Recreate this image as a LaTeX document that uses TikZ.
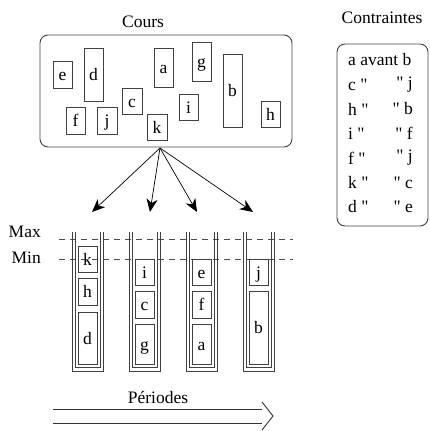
\documentclass[tikz,border=0pt]{standalone}
\usepackage{fontspec}
\setmainfont{Liberation Serif}[Ligatures=TeXOff]
\usetikzlibrary{arrows.meta}
\begin{document}
\begin{tikzpicture}[x=1pt,y=-1pt,
  txt/.style={font=\fontsize{17.5}{20}\selectfont, inner sep=0pt},
  ln/.style={draw=black!75, line width=0.9pt},
  lbox/.style={txt, ln, rectangle, minimum width=19pt, text height=12.5pt, text depth=0pt},
  grp/.style={ln, rounded corners=8pt},
  lim/.style={draw=black!70, line width=0.8pt, dash pattern=on 6pt off 5pt},
  per/.style={draw=black!75, line width=0.9pt},
  pick/.style={draw=black, line width=0.7pt, -{Stealth[length=13pt,width=11pt,inset=4pt]}},
  flow/.style={draw=black!80, line width=0.9pt}
]
\useasboundingbox (0,0) rectangle (429,431);

% --- Cours
\node[txt] (courslbl) at (143,22) {Cours};
\draw[grp] (40,35) rectangle (292,147);
\node[lbox, minimum height=27pt] (te) at (62.5,74.5) {e};
\node[lbox, minimum height=53pt] (td) at (93.5,74.5) {d};
\node[lbox, minimum height=39pt] (ta) at (163.5,67.5) {a};
\node[lbox, minimum height=39pt] (tg) at (201.5,61.5) {g};
\node[lbox, minimum height=73pt] (tb) at (232.5,90.5) {b};
\node[lbox, minimum height=26pt] (th) at (270.5,114) {h};
\node[lbox, minimum height=26pt, minimum width=20pt] (tc) at (132,101) {c};
\node[lbox, minimum height=26pt] (ti) at (188.5,107) {i};
\node[lbox, minimum height=26pt, minimum width=20pt] (tk) at (157,127) {k};
\node[lbox, minimum height=27pt] (tf) at (75.5,120.5) {f};
\node[lbox, minimum height=27pt, minimum width=20pt] (tj) at (107,120.5) {j};

% --- Contraintes
\node[txt] (contlbl) at (382,18) {Contraintes};
\draw[grp] (337,44) rectangle (428,226);
\node[txt, anchor=west] (r1) at (348,60) {a avant b};
\node[txt, anchor=west] (r2l) at (348,84.5) {c "};
\node[txt, anchor=east] (r2r) at (413,84.5) {" j};
\node[txt, anchor=west] (r3l) at (348,109) {h "};
\node[txt, anchor=east] (r3r) at (413,109) {" b};
\node[txt, anchor=west] (r4l) at (348,133.5) {i "};
\node[txt, anchor=east] (r4r) at (413,133.5) {" f};
\node[txt, anchor=west] (r5l) at (348,158) {f "};
\node[txt, anchor=east] (r5r) at (413,158) {" j};
\node[txt, anchor=west] (r6l) at (348,182.5) {k "};
\node[txt, anchor=east] (r6r) at (413,182.5) {" c};
\node[txt, anchor=west] (r7l) at (348,207) {d "};
\node[txt, anchor=east] (r7r) at (413,207) {" e};

% --- arrows
\coordinate (src) at (160,148);
\coordinate (t1) at (92,212);
\coordinate (t2) at (150,212);
\coordinate (t3) at (197,212);
\coordinate (t4) at (253,212);
\draw[pick] (src) -- (t1);
\draw[pick] (src) -- (t2);
\draw[pick] (src) -- (t3);
\draw[pick] (src) -- (t4);

% --- Max / Min
\node[txt, anchor=east] (maxlbl) at (41,232) {Max};
\node[txt, anchor=east] (minlbl) at (41,258) {Min};
\draw[lim] (59,239) -- (293,239);
\draw[lim] (59,259) -- (293,259);

% --- periods
\foreach \px in {72,129,186,243}{
  \draw[per] (\px,232) -- (\px,371) -- (\px+31,371) -- (\px+31,232);
  \draw[per] (\px+3,232) -- (\px+3,367) -- (\px+28,367) -- (\px+28,232);
}
\node[lbox, minimum height=26pt] (pk) at (87.5,259) {k};
\node[lbox, minimum height=27pt] (ph) at (87.5,291.5) {h};
\node[lbox, minimum height=52pt] (pd) at (87.5,338) {d};
\node[lbox, minimum height=26pt] (pi) at (144.5,272) {i};
\node[lbox, minimum height=27pt] (pc) at (144.5,304.5) {c};
\node[lbox, minimum height=40pt] (pg) at (144.5,344) {g};
\node[lbox, minimum height=26pt] (pe) at (201.5,272) {e};
\node[lbox, minimum height=27pt] (pf) at (201.5,304.5) {f};
\node[lbox, minimum height=40pt] (pa) at (201.5,344) {a};
\node[lbox, minimum height=26pt] (pj) at (258.5,272) {j};
\node[lbox, minimum height=73pt] (pb) at (258.5,327.5) {b};

% --- Periodes
\node[txt] (perlbl) at (158,397) {Périodes};
\coordinate (fa1) at (53,409);
\coordinate (fb1) at (262,409);
\coordinate (fa2) at (53,423);
\coordinate (fb2) at (262,423);
\coordinate (ftop) at (262,402);
\coordinate (ftip) at (273,416);
\coordinate (fbot) at (262,430);
\draw[flow] (fa1) -- (fb1);
\draw[flow] (fa2) -- (fb2);
\draw[flow] (ftop) -- (ftip) -- (fbot);
\end{tikzpicture}
\end{document}
